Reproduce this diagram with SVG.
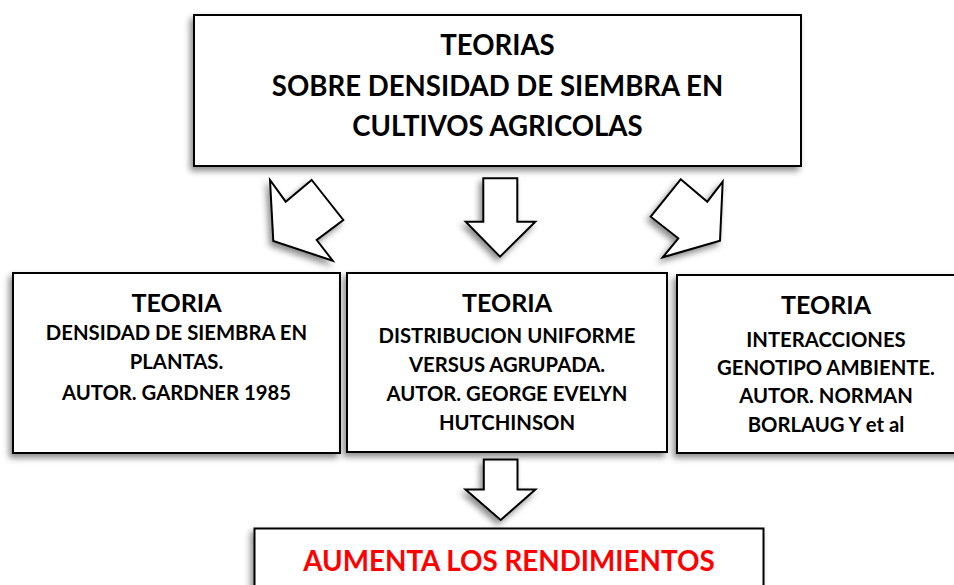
<svg xmlns="http://www.w3.org/2000/svg" width="954" height="585" viewBox="0 0 954 585">
<defs>
<filter id="sh" x="-20%" y="-20%" width="140%" height="140%">
<feDropShadow dx="-3" dy="4" stdDeviation="3" flood-color="#000" flood-opacity="0.45"/>
</filter>
<style>
.box{fill:#fff;stroke:#000;stroke-width:2;filter:url(#sh)}
.arr{fill:#fff;stroke:#000;stroke-width:2;stroke-linejoin:miter;filter:url(#sh)}
text{font-family:Lato,"Liberation Sans",sans-serif;font-weight:bold;text-anchor:middle;fill:#000}
.h1{font-size:27.6px}
.h2{font-size:25px}
.t{font-size:20.3px}
.red{font-size:27.8px;fill:#ff0000}
</style>
</defs>
<rect width="954" height="585" fill="#fff"/>
<g id="top">
<rect class="box" x="194" y="15" width="607" height="151"/>
<text class="h1" x="497.5" y="55">TEORIAS</text>
<text class="h1" x="497.5" y="96">SOBRE DENSIDAD DE SIEMBRA EN</text>
<text class="h1" x="497.5" y="136">CULTIVOS AGRICOLAS</text>
</g>
<g id="connectors">
<polygon class="arr" points="311.7,180 343.3,220 316.7,240 332.7,260.7 273.3,241 270,180 285.7,201.7"/>
<polygon class="arr" points="483.3,178.3 517.3,178.3 517.3,221.7 535.3,221.7 500,256.7 465.7,221.7 483.3,221.7"/>
<polygon class="arr" points="680.7,179.3 707.3,201.7 722.7,181.7 720,240.7 662.7,257.3 678.3,238.3 650.7,216.7"/>
<polygon class="arr" points="483.8,459.6 517.5,459.6 517.5,489.6 535.4,489.6 500.7,519.9 465.5,489.6 483.8,489.6"/>
</g>
<g id="left">
<rect class="box" x="13" y="273" width="327" height="180"/>
<text class="h2" x="176.5" y="311.7">TEORIA</text>
<text class="t" x="176.5" y="339.5">DENSIDAD DE SIEMBRA EN</text>
<text class="t" x="176.5" y="369">PLANTAS.</text>
<text class="t" x="176.5" y="400">AUTOR. GARDNER 1985</text>
</g>
<g id="middle">
<rect class="box" x="347" y="273" width="320" height="179"/>
<text class="h2" x="507" y="311.7">TEORIA</text>
<text class="t" x="507" y="342.7">DISTRIBUCION UNIFORME</text>
<text class="t" x="507" y="371.7">VERSUS AGRUPADA.</text>
<text class="t" x="507" y="400.5">AUTOR. GEORGE EVELYN</text>
<text class="t" x="507" y="430">HUTCHINSON</text>
</g>
<g id="right">
<rect class="box" x="677" y="275" width="300" height="178"/>
<text class="h2" x="826" y="314.3">TEORIA</text>
<text class="t" x="826" y="346.7">INTERACCIONES</text>
<text class="t" x="826" y="375">GENOTIPO AMBIENTE.</text>
<text class="t" x="826" y="403.3">AUTOR. NORMAN</text>
<text class="t" x="826" y="431.7">BORLAUG Y et al</text>
</g>
<g id="bottom">
<rect class="box" x="254.5" y="528.5" width="509" height="70"/>
<text class="red" x="509" y="571">AUMENTA LOS RENDIMIENTOS</text>
</g>
</svg>
